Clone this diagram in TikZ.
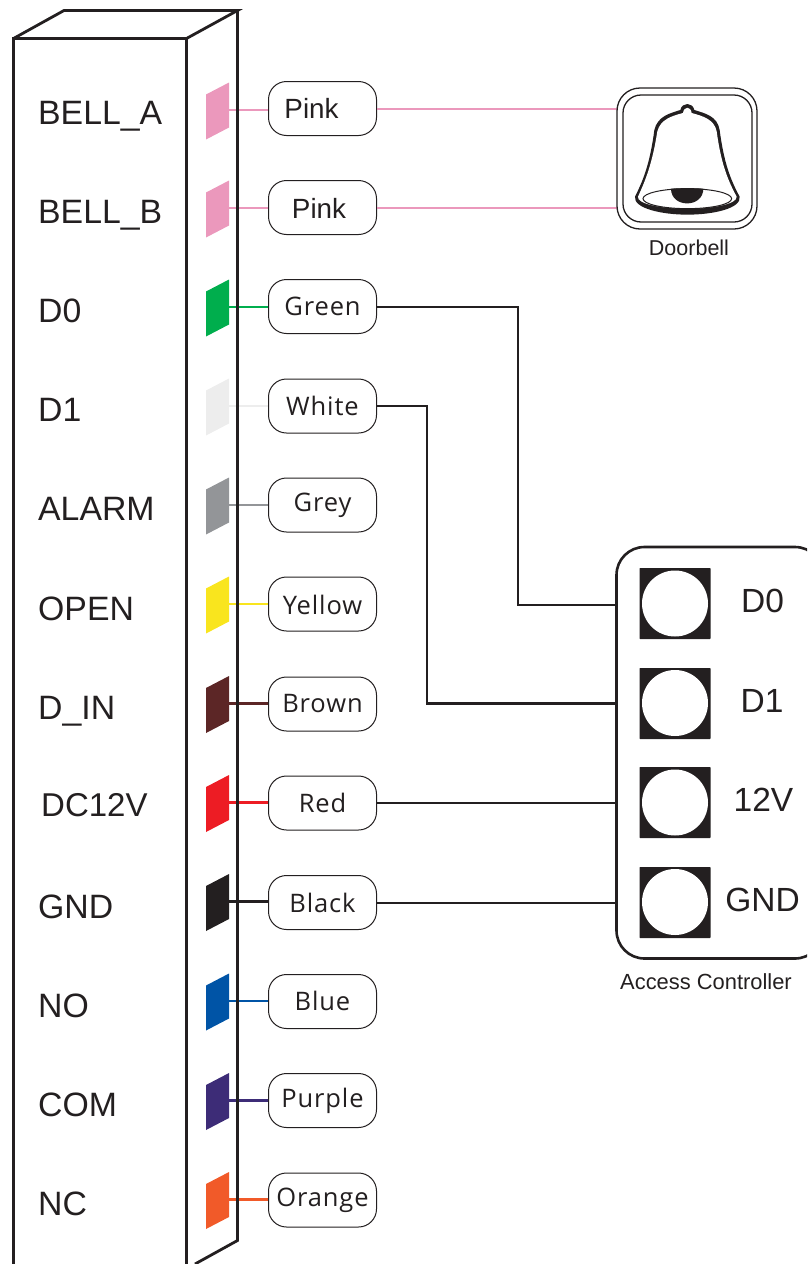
\documentclass[tikz,border=0pt]{standalone}
\usepackage{fontspec}
\setmainfont{Liberation Sans}
\newfontfamily\pillfont[LetterSpace=3.5]{Open Sans}
\definecolor{ink}{HTML}{231F20}
\definecolor{cPink}{HTML}{EB98BC}
\definecolor{cGreen}{HTML}{00AE4D}
\definecolor{cWhite}{HTML}{EDEDED}
\definecolor{cGrey}{HTML}{939598}
\definecolor{cYellow}{HTML}{F9E51E}
\definecolor{cBrown}{HTML}{5C2626}
\definecolor{cRed}{HTML}{ED1C24}
\definecolor{cBlack}{HTML}{231F20}
\definecolor{cBlue}{HTML}{0054A6}
\definecolor{cPurple}{HTML}{3D2C77}
\definecolor{cOrange}{HTML}{F15A29}
\tikzset{
  pill/.style={draw=ink,line width=1pt,fill=white,rounded corners=18pt,minimum width=108pt,minimum height=54pt,inner sep=0pt,text=ink,text depth=0pt,text height=2*#1,font=\pillfont\fontsize{25.5}{25.5}\selectfont},
  pillarial/.style={pill=#1,font=\fontsize{27.8}{27.8}\selectfont},
  lab/.style={anchor=base west,inner sep=0pt,text=ink,font=\fontsize{33.8}{33.8}\selectfont},
  devlab/.style={anchor=base,inner sep=0pt,text=ink,font=\fontsize{33.5}{33.5}\selectfont},
  wire/.style={line width=2.5pt},
  bk/.style={draw=ink,line width=2.5pt,line join=miter},
  edge/.style={draw=ink,line width=2.8pt,line join=miter},
}
\newcommand{\pad}[3]{% top-right y, colour, name
  \fill[#2] (206,#1+12) -- (229,#1) -- (229,#1+45) -- (206,#1+57) -- cycle;
  \coordinate (#3) at (229,#1+27.5);
}
\begin{document}
\begin{tikzpicture}[x=1pt,y=-1pt]
\useasboundingbox (0,0) rectangle (807,1264);
\clip (0,0) rectangle (807,1264);
% pads
\pad{82.5}{cPink}{pa}
\pad{180.5}{cPink}{pb}
\pad{279.5}{cGreen}{pc}
\pad{378.5}{cWhite}{pd}
\pad{477.5}{cGrey}{pe}
\pad{576.5}{cYellow}{pf}
\pad{676}{cBrown}{pg}
\pad{775}{cRed}{ph}
\pad{874}{cBlack}{pi}
\pad{973.5}{cBlue}{pj}
\pad{1073}{cPurple}{pk}
\pad{1172}{cOrange}{pl}
% far ends of the wires
\coordinate (bella) at (617,109);
\coordinate (bellb) at (617,208);
\coordinate (acD0) at (617,605);
\coordinate (acD1) at (617,703.5);
\coordinate (ac12) at (617,803);
\coordinate (acG) at (617,903);
\coordinate (kneeA) at (518,307);
\coordinate (kneeB) at (518,605);
\coordinate (kneeC) at (427,406);
\coordinate (kneeD) at (427,703.5);
% pills
\node[pillarial=9.8pt] (n1) at (322.5,108.5) {\hspace*{-22pt}Pink};
\node[pillarial=10.8pt] (n2) at (322.5,207.5) {\hspace*{-7pt}Pink};
\node[pill=8.5pt] (n3) at (322.5,306.5) {Green};
\node[pill=9.7pt] (n4) at (322.5,406) {White};
\node[pill=6.7pt] (n5) at (322.5,505) {Grey};
\node[pill=10.3pt] (n6) at (322.5,604) {Yellow};
\node[pill=8.7pt] (n7) at (322.5,704) {Brown};
\node[pill=9pt] (n8) at (322.5,803) {Red};
\node[pill=10.4pt] (n9) at (322.5,902.5) {Black};
\node[pill=9.2pt] (n10) at (322.5,1001.5) {Blue};
\node[pill=7.2pt] (n11) at (322.5,1100.5) {Purple};
\node[pill=6.7pt] (n12) at (322.5,1200) {Orange};
% wires pad to pill
\draw[wire,cPink] (pa) -- (n1.west |- pa);
\draw[wire,cPink] (pb) -- (n2.west |- pb);
\draw[wire,cGreen] (pc) -- (n3.west |- pc);
\draw[wire,cWhite] (pd) -- (n4.west |- pd);
\draw[wire,cGrey] (pe) -- (n5.west |- pe);
\draw[wire,cYellow] (pf) -- (n6.west |- pf);
\draw[wire,cBrown] (pg) -- (n7.west |- pg);
\draw[wire,cRed] (ph) -- (n8.west |- ph);
\draw[wire,cBlack] (pi) -- (n9.west |- pi);
\draw[wire,cBlue] (pj) -- (n10.west |- pj);
\draw[wire,cPurple] (pk) -- (n11.west |- pk);
\draw[wire,cOrange] (pl) -- (n12.west |- pl);
% wires to devices
\draw[wire,cPink] (n1.east |- bella) -- (bella);
\draw[wire,cPink] (n2.east |- bellb) -- (bellb);
\draw[bk] (n3.east |- kneeA) -- (kneeA) -- (kneeB) -- (acD0);
\draw[bk] (n4.east) -- (kneeC) -- (kneeD) -- (acD1);
\draw[bk] (n8.east) -- (ac12);
\draw[bk] (n9.east |- acG) -- (acG);
% housing
\draw[edge] (186.5,1264) -- (186.5,38.5) (13.5,1264) -- (13.5,38.5) -- (186.5,38.5) -- (237.5,10.5) -- (64,10.5) -- (13.5,38.5);
\draw[edge] (237.5,10.5) -- (237.5,1240.5) -- (195,1264);
% housing labels
\node[lab] (t1) at (38,124) {BELL\_A};
\node[lab] (t2) at (38,223) {BELL\_B};
\node[lab] (t3) at (38,322) {D0};
\node[lab] (t4) at (38,421) {D1};
\node[lab] (t5) at (38,520.5) {ALARM};
\node[lab] (t6) at (38,620.5) {OPEN};
\node[lab] (t7) at (38,719) {D\_IN};
\node[lab,font=\fontsize{33}{33}\selectfont] (t8) at (41,816.5) {DC12V};
\node[lab] (t9) at (38,918) {GND};
\node[lab] (t10) at (38,1017) {NO};
\node[lab] (t11) at (38,1116) {COM};
\node[lab] (t12) at (38,1215.5) {NC};
% doorbell
\draw[ink,line width=1.3pt,fill=white,rounded corners=23pt] (617,88) rectangle (757,229);
\draw[ink,line width=1.3pt,rounded corners=18pt] (623,95) rectangle (752,222);
\begin{scope}[shift={(600,80)},x=0.3333pt,y=-0.3333pt]
\fill[ink] (105,350) .. controls (130,300) and (150,250) .. (163,150) .. controls (173,108) and (210,100) .. (241,90)
  .. controls (246,66) and (278,66) .. (283,90) .. controls (315,100) and (352,108) .. (359,150)
  .. controls (372,250) and (392,300) .. (419,350) .. controls (425,385) and (340,404) .. (262,404)
  .. controls (185,404) and (100,385) .. (105,350) -- cycle;
\fill[white] (114,350) .. controls (137,300) and (157,250) .. (172,154) .. controls (182,118) and (215,108) .. (249,99)
  .. controls (252,78) and (272,78) .. (275,99) .. controls (308,108) and (343,118) .. (350,154)
  .. controls (363,250) and (383,300) .. (410,350) .. controls (412,372) and (340,386) .. (262,386)
  .. controls (185,386) and (110,372) .. (114,350) -- cycle;
\draw[ink,line width=1pt] (262,356) ellipse [x radius=133,y radius=30];
\fill[ink] (213,326) .. controls (245,324) and (280,324) .. (310,326) .. controls (310,385) and (213,385) .. (213,326) -- cycle;
\end{scope}
\node[anchor=base,inner sep=0pt,text=ink,font=\fontsize{21.5}{21.5}\selectfont] (dbl) at (689,255) {Doorbell};
% access controller
\draw[ink,line width=2.6pt,fill=white,rounded corners=28pt] (616.5,547) rectangle (823,958.5);
\foreach \y/\cy [count=\i] in {568/603.5,668/703,767/802.5,867/902}{
  \fill[ink,rounded corners=0.7pt] (639.5,\y) rectangle (710.5,\y+71);
  \fill[white] (675,\cy) circle (33);
}
\node[devlab] (a1) at (762.5,612) {D0};
\node[devlab] (a2) at (762,712) {D1};
\node[devlab] (a3) at (763.5,811) {12V};
\node[devlab] (a4) at (762.5,911.5) {GND};
\node[anchor=base,inner sep=0pt,text=ink,font=\fontsize{21.9}{21.9}\selectfont] (acl) at (706,989) {Access Controller};
\end{tikzpicture}
\end{document}
